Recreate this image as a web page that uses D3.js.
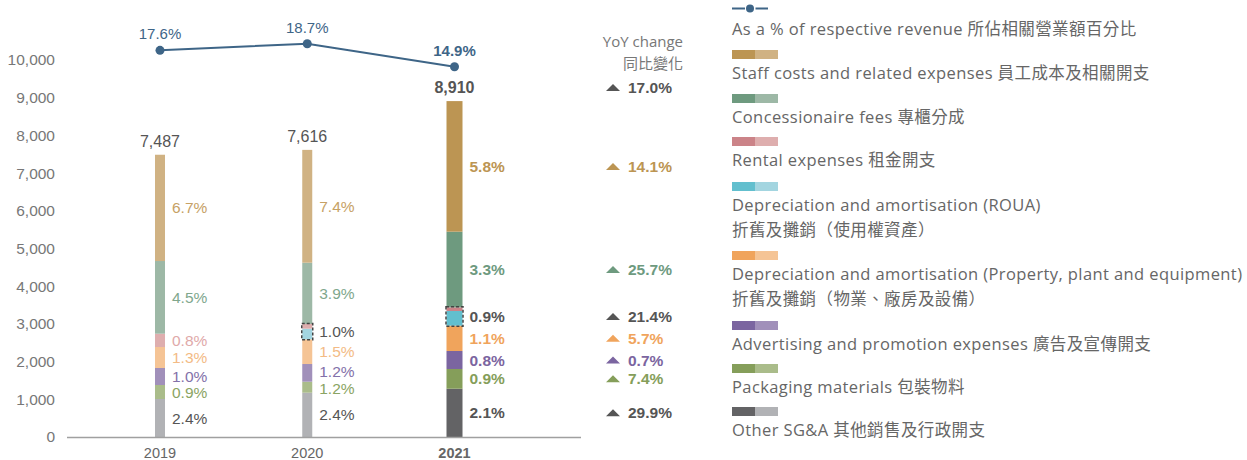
<!DOCTYPE html>
<html lang="en">
<head>
<meta charset="utf-8">
<title>SG&A expenses</title>
<style>
  body { margin: 0; background: #fff; }
  svg text { font-family: "Liberation Sans", Arial, "Noto Sans CJK TC", sans-serif; }
  svg text.wide { font-family: "Open Sans", "Noto Sans CJK TC", sans-serif; }
</style>
</head>
<body>
<div id="wrapper"></div>
<script src="https://cdn.jsdelivr.net/npm/d3@7"></script>
<script>
// ---- data (HK$ million) ----
const years = ["2019", "2020", "2021"]
const totals = [7487, 7616, 8910]
const pctOfRevenue = [17.6, 18.7, 14.9]

const otherSGA = [1008, 1175, 1281]
const packaging = [371, 292, 523]
const advertising = [451, 469, 477]
const deprPPE = [557, 655, 671]
const deprROUA = [0, 282, 390]
const rental = [353, 124, 98]
const concession = [1928, 1626, 2006]
const staff = [2819, 2993, 3464]

// % of revenue labels beside each segment
const staffPct = ["6.7%", "7.4%", "5.8%"]
const concessionPct = ["4.5%", "3.9%", "3.3%"]
const rentalPct = ["0.8%", "1.0%", "0.9%"]   // 2020/2021: rental + ROUA together
const ppePct = ["1.3%", "1.5%", "1.1%"]
const advertisingPct = ["1.0%", "1.2%", "0.8%"]
const packagingPct = ["0.9%", "1.2%", "0.9%"]
const otherPct = ["2.4%", "2.4%", "2.1%"]

// YoY change column
const yoyKeys = ["total", "staff", "concession", "rental", "ppe", "advertising", "packaging", "other"]
const yoyValues = ["17.0%", "14.1%", "25.7%", "21.4%", "5.7%", "0.7%", "7.4%", "29.9%"]

const legendLabels = [
    ["Staff costs and related expenses 員工成本及相關開支"],
    ["Concessionaire fees 專櫃分成"],
    ["Rental expenses 租金開支"],
    ["Depreciation and amortisation (ROUA)", "折舊及攤銷（使用權資產）"],
    ["Depreciation and amortisation (Property, plant and equipment)", "折舊及攤銷（物業、廠房及設備）"],
    ["Advertising and promotion expenses 廣告及宣傳開支"],
    ["Packaging materials 包裝物料"],
    ["Other SG&A 其他銷售及行政開支"],
]

// stack order, bottom to top
const keys = ["other", "packaging", "advertising", "ppe", "roua", "rental", "concession", "staff"]
const seriesData = {other: otherSGA, packaging, advertising, ppe: deprPPE, roua: deprROUA, rental, concession, staff}
const pctData = {other: otherPct, packaging: packagingPct, advertising: advertisingPct, ppe: ppePct, rental: rentalPct, concession: concessionPct, staff: staffPct}

const dark = {staff: "#bc9553", concession: "#6e9a7f", rental: "#cb8388", roua: "#62bfce", ppe: "#f0a45c", advertising: "#7b65a0", packaging: "#859e5a", other: "#636365"}
const light = {staff: "#d0b283", concession: "#9db8a6", rental: "#deaeae", roua: "#a3d5e0", ppe: "#f5c495", advertising: "#a190ba", packaging: "#aabc8a", other: "#b1b2b5"}
const textLight = {staff: "#c6a165", concession: "#80a78d", rental: "#e0a9a9", ppe: "#f3bb85", advertising: "#8371a9", packaging: "#8aa463", other: "#555"}
const textDark = {staff: "#bc9553", concession: "#6e9a7f", rental: "#555", ppe: "#f0a45c", advertising: "#7b65a0", packaging: "#859e5a", other: "#555", total: "#555"}
const lineColor = "#3e6587"

const width = 1247
const height = 460

const table = years.map((year, i) => {
    const row = {year}
    keys.forEach(k => row[k] = seriesData[k][i])
    return row
})

const svg = d3.select("#wrapper").append("svg")
    .attr("width", width)
    .attr("height", height)

const x = d3.scalePoint().domain(years).range([160, 454.5])
const y = d3.scaleLinear().domain([0, 10000]).range([437, 60])
const yPct = d3.scaleLinear().domain([14.9, 18.7]).range([66.7, 43.7])

const barWidth = year => year === "2021" ? 16 : 10
const isLatest = i => i === years.length - 1

// y axis labels
const yAxis = svg.append("g")
    .attr("transform", "translate(67,0)")
    .call(d3.axisLeft(y).tickValues(d3.range(0, 10001, 1000)).tickSize(0).tickPadding(12).tickFormat(d3.format(",")))
yAxis.select(".domain").remove()
yAxis.selectAll("text")
    .style("font-size", "15.5px")
    .attr("fill", "#777")

// stacked bars
const stacked = d3.stack().keys(keys)(table)
svg.append("g").selectAll("g")
    .data(stacked)
    .join("g")
    .selectAll("rect")
    .data(d => d.map((v, i) => ({key: d.key, v, i})))
    .join("rect")
    .attr("x", d => x(years[d.i]) - barWidth(years[d.i]) / 2)
    .attr("width", d => barWidth(years[d.i]))
    .attr("y", d => y(d.v[1]))
    .attr("height", d => y(d.v[0]) - y(d.v[1]))
    .attr("fill", d => isLatest(d.i) ? dark[d.key] : light[d.key])

// baseline
svg.append("line")
    .attr("x1", 67).attr("x2", 581)
    .attr("y1", y(0) + 0.5).attr("y2", y(0) + 0.5)
    .attr("stroke", "#a0a0a0")
    .attr("stroke-width", 1.5)

const stackOf = key => stacked.find(s => s.key === key)

// dashed box around ROUA + rental
years.forEach((year, i) => {
    if (deprROUA[i] === 0) return
    const lo = stackOf("roua")[i][0]
    const hi = stackOf("rental")[i][1]
    const w = barWidth(year)
    svg.append("rect")
        .attr("x", x(year) - w / 2 - 0.5)
        .attr("y", y(hi) - 0.5)
        .attr("width", w + 1)
        .attr("height", y(lo) - y(hi) + 1)
        .attr("fill", "none")
        .attr("stroke", "#444")
        .attr("stroke-width", 1.5)
        .attr("stroke-dasharray", "3,2")
})

// segment labels, placed at segment middles and nudged apart when too close
const labelRows = []
years.forEach((year, i) => {
    const rows = Object.keys(pctData).map(key => {
        let lo = stackOf(key)[i][0]
        const hi = stackOf(key)[i][1]
        if (key === "rental") lo = stackOf("roua")[i][0]
        const combined = key === "rental" && deprROUA[i] > 0
        return {i, key, pos: y((lo + hi) / 2), text: pctData[key][i], combined}
    })
    const minGap = 16.5
    for (let pass = 0; pass < 5; pass++) {
        for (let j = 0; j < rows.length - 1; j++) {
            const gap = rows[j].pos - rows[j + 1].pos
            if (gap < minGap) {
                const push = (minGap - gap) / 2
                rows[j].pos += push
                rows[j + 1].pos -= push
            }
        }
    }
    labelRows.push(...rows)
})
svg.append("g").selectAll("text")
    .data(labelRows)
    .join("text")
    .attr("x", d => x(years[d.i]) + barWidth(years[d.i]) / 2 + 7)
    .attr("y", d => d.pos)
    .attr("dy", "0.36em")
    .style("font-size", "15.5px")
    .style("font-weight", d => isLatest(d.i) ? "bold" : "normal")
    .attr("fill", d => isLatest(d.i) ? textDark[d.key] : (d.combined ? "#555" : textLight[d.key]))
    .text(d => d.text)

// totals above bars
svg.append("g").selectAll("text")
    .data(totals)
    .join("text")
    .attr("x", (d, i) => x(years[i]))
    .attr("y", d => y(d) - 8)
    .attr("text-anchor", "middle")
    .style("font-size", "16px")
    .style("font-weight", (d, i) => isLatest(i) ? "bold" : "normal")
    .attr("fill", "#555")
    .text(d => d3.format(",")(d))

// year labels
svg.append("g").selectAll("text")
    .data(years)
    .join("text")
    .attr("x", d => x(d))
    .attr("y", 458)
    .attr("text-anchor", "middle")
    .style("font-size", "14.5px")
    .style("font-weight", (d, i) => isLatest(i) ? "bold" : "normal")
    .attr("fill", "#666")
    .text(d => d)

// % of revenue line
const linePoints = years.map((year, i) => [x(year), yPct(pctOfRevenue[i])])
svg.append("path")
    .attr("d", d3.line()(linePoints))
    .attr("fill", "none")
    .attr("stroke", lineColor)
    .attr("stroke-width", 2)
svg.append("g").selectAll("circle")
    .data(linePoints)
    .join("circle")
    .attr("cx", d => d[0])
    .attr("cy", d => d[1])
    .attr("r", 4.5)
    .attr("fill", lineColor)
svg.append("g").selectAll("text")
    .data(pctOfRevenue)
    .join("text")
    .attr("x", (d, i) => x(years[i]))
    .attr("y", d => yPct(d) - 11)
    .attr("text-anchor", "middle")
    .style("font-size", "15px")
    .style("font-weight", (d, i) => isLatest(i) ? "bold" : "normal")
    .attr("fill", lineColor)
    .text(d => d.toFixed(1) + "%")

// YoY change column
svg.append("text")
    .attr("class", "wide")
    .attr("x", 683).attr("y", 47)
    .attr("text-anchor", "end")
    .style("font-size", "15px")
    .attr("fill", "#777")
    .text("YoY change")
svg.append("text")
    .attr("class", "wide")
    .attr("x", 683).attr("y", 68.5)
    .attr("text-anchor", "end")
    .style("font-size", "15px")
    .attr("fill", "#777")
    .text("同比變化")

const last = years.length - 1
const yoyY = key => {
    if (key === "total") return y(totals[last]) - 8 - 5.5
    return labelRows.find(r => r.i === last && r.key === key).pos
}
const yoyGroup = svg.append("g").selectAll("g")
    .data(yoyKeys.map((k, i) => ({key: k, text: yoyValues[i]})))
    .join("g")
    .attr("transform", d => `translate(0,${yoyY(d.key)})`)
yoyGroup.append("path")
    .attr("d", "M606,3.5 L620,3.5 L613,-3.5 Z")
    .attr("fill", d => textDark[d.key])
yoyGroup.append("text")
    .attr("x", 628)
    .attr("dy", "0.36em")
    .style("font-size", "15.5px")
    .style("font-weight", "bold")
    .attr("fill", d => textDark[d.key])
    .text(d => d.text)

// legend
const legend = svg.append("g").attr("transform", "translate(732,0)")
legend.append("line")
    .attr("x1", 0).attr("x2", 13)
    .attr("y1", 8.5).attr("y2", 8.5)
    .attr("stroke", lineColor)
    .attr("stroke-width", 2)
legend.append("line")
    .attr("x1", 23.5).attr("x2", 36)
    .attr("y1", 8.5).attr("y2", 8.5)
    .attr("stroke", lineColor)
    .attr("stroke-width", 2)
legend.append("circle")
    .attr("cx", 18).attr("cy", 8.5).attr("r", 4)
    .attr("fill", lineColor)
legend.append("text")
    .attr("class", "wide")
    .attr("y", 35)
    .style("font-size", "16.5px")
    .style("letter-spacing", "0.4px")
    .attr("fill", "#666")
    .text("As a % of respective revenue 所佔相關營業額百分比")

const legendKeys = ["staff", "concession", "rental", "roua", "ppe", "advertising", "packaging", "other"]
const swatchTops = [50, 94, 137, 182, 251, 321, 364, 407]
legendKeys.forEach((key, i) => {
    const top = swatchTops[i]
    legend.append("rect").attr("x", 0).attr("y", top).attr("width", 23).attr("height", 9).attr("fill", dark[key])
    legend.append("rect").attr("x", 23).attr("y", top).attr("width", 23).attr("height", 9).attr("fill", light[key])
    legendLabels[i].forEach((line, j) => {
        legend.append("text")
            .attr("class", "wide")
            .attr("y", top + 29 + j * 24.5)
            .style("font-size", "16.5px")
            .style("letter-spacing", "0.4px")
            .attr("fill", "#666")
            .text(line)
    })
})
</script>
</body>
</html>
